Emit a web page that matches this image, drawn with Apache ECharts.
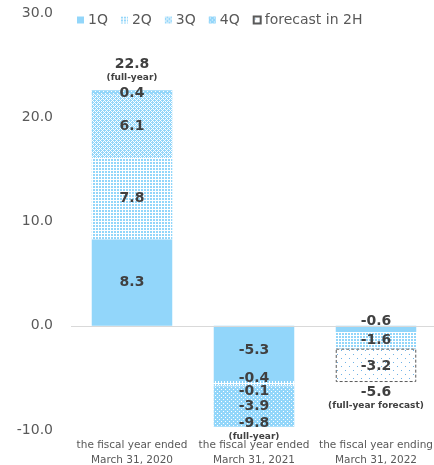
<!DOCTYPE html>
<html>
<head>
<meta charset="utf-8">
<script src="https://cdn.jsdelivr.net/npm/echarts@6/dist/echarts.min.js"></script>
<style>
  html, body { margin: 0; padding: 0; background: #fff; }
  #chart { width: 434px; height: 465px; }
</style>
</head>
<body>
<div id="chart"></div>
<script>
// Quarterly results per fiscal year (stacked), with the full-year totals
const categories = [
  'the fiscal year ended\nMarch 31, 2020',
  'the fiscal year ended\nMarch 31, 2021',
  'the fiscal year ending\nMarch 31, 2022'
];
const q1 = [8.3, -5.3, -0.6];
const q2 = [7.8, -0.4, -1.6];
const q3 = [6.1, -0.1, null];
const q4 = [0.4, -3.9, null];
const forecast2H = [null, null, -3.2];
const fullYear = [22.8, -9.8, -5.6];
const fullYearNotes = ['(full-year)', '(full-year)', '(full-year forecast)'];
const yTicks = [-10, 0, 10, 20, 30];

const BLUE = '#92d6fa';
const INK = '#404040';
const FONT = 'DejaVu Sans';

// Small tiled fills for the hatched segments
function tile(w, h, bg, fg, pixels) {
  const c = document.createElement('canvas');
  c.width = w; c.height = h;
  const g = c.getContext('2d');
  g.fillStyle = bg; g.fillRect(0, 0, w, h);
  g.fillStyle = fg;
  pixels.forEach(p => g.fillRect(p[0], p[1], 1, 1));
  return { image: c, repeat: 'repeat' };
}
function gridPixels() {
  const px = [];
  for (let i = 0; i < 3; i++) { px.push([i, 2]); if (i < 2) px.push([2, i]); }
  return px;
}
function crossPixels() {
  const px = [];
  for (let x = 0; x < 4; x++) for (let y = 0; y < 4; y++) {
    if ((x + y) % 4 === 0 || (x - y + 4) % 4 === 0) px.push([x, y]);
  }
  return px;
}
const fill2Q = tile(3, 3, BLUE, '#ffffff', gridPixels());
const fill3Q = tile(4, 4, BLUE, '#ffffff', crossPixels());
const fill4Q = tile(4, 4, BLUE, '#ffffff', [[1, 1], [3, 3]]);
const fillForecast = tile(8, 8, '#ffffff', '#6fb2e6', [[1, 2], [5, 6]]);

// Per-segment label nudges, in pixels
const labelNudge = {
  '1Q': [[0, 0], [0, -3], [0, -8]],
  '2Q': [[0, 0], [0, -5], [0, 0]],
  '3Q': [[0, 0], [0, 6], [0, 0]],
  '4Q': [[0, 1], [0, 0], [0, 0]],
  'forecast in 2H': [[0, 0], [0, 0], [0, 1]]
};
const totalNudge = [[0, -17], [0, 2], [0, 15]];

const valueLabel = {
  show: true,
  position: 'inside',
  color: INK,
  textBorderWidth: 0,
  fontFamily: FONT,
  fontWeight: 'bold',
  fontSize: 14,
  formatter: p => p.value == null ? '' : Number(p.value).toFixed(1)
};

function stackSeries(name, values, itemStyle) {
  return {
    name: name,
    type: 'bar',
    stack: 'total',
    barWidth: '66%',
    z: 3,
    itemStyle: itemStyle,
    label: valueLabel,
    emphasis: { disabled: true },
    data: values.map((v, i) => v == null ? null : {
      value: v,
      label: { offset: labelNudge[name][i] }
    })
  };
}

const series = [
  // zero baseline, kept underneath the bars
  {
    name: 'baseline',
    type: 'line',
    data: [],
    z: 1,
    silent: true,
    markLine: {
      silent: true,
      symbol: ['none', 'none'],
      label: { show: false },
      lineStyle: { color: '#d9d9d9', type: 'solid', width: 1 },
      data: [{ yAxis: 0 }]
    }
  },
  stackSeries('1Q', q1, { color: BLUE }),
  stackSeries('2Q', q2, { color: fill2Q }),
  stackSeries('3Q', q3, { color: fill3Q }),
  stackSeries('4Q', q4, { color: fill4Q }),
  stackSeries('forecast in 2H', forecast2H, {
    color: fillForecast,
    borderColor: '#595959',
    borderWidth: 1,
    borderType: [3, 2]
  }),
  {
    name: 'fullYear',
    type: 'scatter',
    symbol: 'circle',
    symbolSize: 1,
    itemStyle: { color: 'rgba(0,0,0,0)', opacity: 1 },
    z: 10,
    silent: true,
    data: fullYear.map((v, i) => ({
      value: v,
      label: { offset: totalNudge[i] }
    })),
    label: {
      show: true,
      position: 'inside',
      color: INK,
      textBorderWidth: 0,
      fontFamily: FONT,
      fontWeight: 'bold',
      formatter: p => '{v|' + p.value.toFixed(1) + '}\n{n|' + fullYearNotes[p.dataIndex] + '}',
      rich: {
        v: { fontFamily: FONT, fontWeight: 'bold', fontSize: 14, color: INK, textBorderWidth: 0, lineHeight: 14 },
        n: { fontFamily: FONT, fontWeight: 'bold', fontSize: 9, color: INK, textBorderWidth: 0, lineHeight: 14 }
      }
    }
  }
];

const chart = echarts.init(document.getElementById('chart'), null, { renderer: 'canvas' });
chart.setOption({
  animation: false,
  backgroundColor: '#ffffff',
  textStyle: { fontFamily: FONT },
  legend: {
    data: ['1Q', '2Q', '3Q', '4Q', 'forecast in 2H'],
    left: 72,
    top: 8,
    icon: 'rect',
    itemWidth: 7,
    itemHeight: 7,
    itemGap: 13,
    textStyle: { fontFamily: FONT, fontSize: 14, color: '#595959', padding: [0, 0, 0, -1] },
    selectedMode: false
  },
  grid: { left: 71, width: 366, top: 13, bottom: 35, containLabel: false, outerBoundsMode: 'none' },
  xAxis: {
    type: 'category',
    data: categories,
    axisLine: { show: false },
    axisTick: { show: false },
    axisLabel: {
      interval: 0,
      fontFamily: FONT,
      fontSize: 10.5,
      lineHeight: 15,
      color: '#595959',
      margin: 8
    }
  },
  yAxis: {
    type: 'value',
    min: yTicks[0],
    max: yTicks[yTicks.length - 1],
    interval: yTicks[1] - yTicks[0],
    axisLine: { show: false },
    axisTick: { show: false },
    splitLine: { show: false },
    axisLabel: {
      fontFamily: FONT,
      fontSize: 14,
      color: '#595959',
      margin: 18,
      formatter: v => v.toFixed(1)
    }
  },
  series: series
});
</script>
</body>
</html>
